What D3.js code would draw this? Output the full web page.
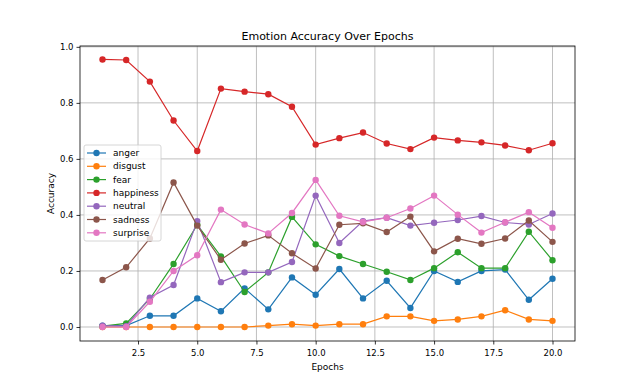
<!DOCTYPE html>
<html lang="en">
<head>
    <meta charset="UTF-8">
    <title>Emotion Accuracy Over Epochs</title>
    <script src="https://cdnjs.cloudflare.com/ajax/libs/d3/7.8.5/d3.min.js"></script>
    <style>
        body { margin: 0; background: #fff; }
        svg text { font-family: "DejaVu Sans", sans-serif; fill: #000; }
        .grid line { stroke: #b0b0b0; stroke-width: 0.8; }
        .axis path, .axis line { stroke: #000; stroke-width: 0.8; }
    </style>
</head>
<body>
    <div id="chart"></div>
    <script>
        // Data
        const epochs = d3.range(1, 21);
        const emotions = ['anger', 'disgust', 'fear', 'happiness', 'neutral', 'sadness', 'surprise'];
        const colors = ['#1f77b4', '#ff7f0e', '#2ca02c', '#d62728', '#9467bd', '#8c564b', '#e377c2'];

        const anger = [0.005, 0.005, 0.04, 0.04, 0.102, 0.056, 0.138, 0.063, 0.177, 0.115, 0.207, 0.102, 0.165, 0.068, 0.2, 0.161, 0.2, 0.205, 0.097, 0.172];
        const disgust = [0, 0, 0, 0, 0, 0, 0, 0.005, 0.01, 0.005, 0.01, 0.01, 0.038, 0.038, 0.022, 0.027, 0.038, 0.06, 0.027, 0.022];
        const fear = [0.003, 0.013, 0.1, 0.225, 0.365, 0.252, 0.125, 0.195, 0.393, 0.295, 0.253, 0.225, 0.197, 0.168, 0.21, 0.267, 0.21, 0.21, 0.34, 0.238];
        const happiness = [0.955, 0.953, 0.876, 0.737, 0.628, 0.851, 0.840, 0.831, 0.786, 0.651, 0.674, 0.694, 0.655, 0.635, 0.676, 0.666, 0.659, 0.648, 0.631, 0.656];
        const neutral = [0.005, 0.003, 0.105, 0.15, 0.378, 0.16, 0.195, 0.195, 0.232, 0.469, 0.3, 0.378, 0.39, 0.362, 0.372, 0.382, 0.396, 0.373, 0.366, 0.405];
        const sadness = [0.168, 0.213, 0.316, 0.516, 0.362, 0.24, 0.298, 0.327, 0.263, 0.209, 0.365, 0.37, 0.339, 0.394, 0.27, 0.315, 0.297, 0.316, 0.38, 0.304];
        const surprise = [0, 0, 0.09, 0.2, 0.256, 0.419, 0.366, 0.334, 0.407, 0.525, 0.397, 0.375, 0.39, 0.423, 0.469, 0.401, 0.337, 0.374, 0.41, 0.354];

        const xTicks = [2.5, 5.0, 7.5, 10.0, 12.5, 15.0, 17.5, 20.0];
        const yTicks = [0.0, 0.2, 0.4, 0.6, 0.8, 1.0];

        const seriesValues = [anger, disgust, fear, happiness, neutral, sadness, surprise];
        const series = emotions.map((name, i) => ({ name, color: colors[i], values: seriesValues[i] }));

        const width = 638, height = 383;
        const margin = { top: 46, right: 63, bottom: 42, left: 80 };

        const svg = d3.select('#chart').append('svg')
            .attr('width', width)
            .attr('height', height);

        const x = d3.scaleLinear().domain([0.05, 20.95]).range([margin.left, width - margin.right]);
        const y = d3.scaleLinear().domain([-0.05, 1.003]).range([height - margin.bottom, margin.top]);

        // Grid
        const grid = svg.append('g').attr('class', 'grid');
        grid.selectAll('.gx').data(xTicks).join('line')
            .attr('x1', d => x(d)).attr('x2', d => x(d))
            .attr('y1', margin.top).attr('y2', height - margin.bottom);
        grid.selectAll('.gy').data(yTicks).join('line')
            .attr('class', 'gy')
            .attr('x1', margin.left).attr('x2', width - margin.right)
            .attr('y1', d => y(d)).attr('y2', d => y(d));

        // Axes
        const xAxis = svg.append('g').attr('class', 'axis')
            .attr('transform', `translate(0,${height - margin.bottom})`)
            .call(d3.axisBottom(x).tickValues(xTicks).tickFormat(d3.format('.1f')).tickSize(3.5).tickSizeOuter(0));
        const yAxis = svg.append('g').attr('class', 'axis')
            .attr('transform', `translate(${margin.left},0)`)
            .call(d3.axisLeft(y).tickValues(yTicks).tickFormat(d3.format('.1f')).tickSize(3.5).tickSizeOuter(0));
        svg.selectAll('.axis text').style('font-size', '8.5px');
        xAxis.selectAll('text').attr('dy', '0.95em');
        xAxis.select('.domain').remove();
        yAxis.select('.domain').remove();

        // Frame
        svg.append('rect')
            .attr('x', margin.left).attr('y', margin.top)
            .attr('width', width - margin.left - margin.right)
            .attr('height', height - margin.top - margin.bottom)
            .attr('fill', 'none').attr('stroke', '#000').attr('stroke-width', 0.8);

        // Lines and markers
        const line = d3.line().x((d, i) => x(epochs[i])).y(d => y(d));
        const groups = svg.append('g').selectAll('g').data(series).join('g');
        groups.append('path')
            .attr('d', d => line(d.values))
            .attr('fill', 'none')
            .attr('stroke', d => d.color)
            .attr('stroke-width', 1.2);
        groups.each(function (s) {
            d3.select(this).selectAll('circle').data(s.values).join('circle')
                .attr('cx', (d, i) => x(epochs[i]))
                .attr('cy', d => y(d))
                .attr('r', 3.2)
                .attr('fill', s.color);
        });

        // Title and labels
        svg.append('text')
            .attr('x', (margin.left + width - margin.right) / 2)
            .attr('y', margin.top - 6)
            .attr('text-anchor', 'middle')
            .style('font-size', '11px')
            .text('Emotion Accuracy Over Epochs');
        svg.append('text')
            .attr('x', (margin.left + width - margin.right) / 2)
            .attr('y', height - 13)
            .attr('text-anchor', 'middle')
            .style('font-size', '9px')
            .text('Epochs');
        svg.append('text')
            .attr('transform', `translate(54,${(margin.top + height - margin.bottom) / 2}) rotate(-90)`)
            .attr('text-anchor', 'middle')
            .style('font-size', '9px')
            .text('Accuracy');

        // Legend
        const legend = svg.append('g').attr('transform', 'translate(84,145)');
        legend.append('rect')
            .attr('width', 77).attr('height', 96)
            .attr('rx', 2)
            .attr('fill', '#fff').attr('fill-opacity', 0.8)
            .attr('stroke', '#ccc').attr('stroke-width', 0.8);
        const items = legend.selectAll('.item').data(series).join('g')
            .attr('transform', (d, i) => `translate(0,${8 + i * 13.3})`);
        items.append('line')
            .attr('x1', 3).attr('x2', 22)
            .attr('stroke', d => d.color).attr('stroke-width', 1.2);
        items.append('circle')
            .attr('cx', 12.5).attr('r', 3.2)
            .attr('fill', d => d.color);
        items.append('text')
            .attr('x', 29).attr('dy', '0.35em')
            .style('font-size', '9px')
            .text(d => d.name);
    </script>
</body>
</html>
